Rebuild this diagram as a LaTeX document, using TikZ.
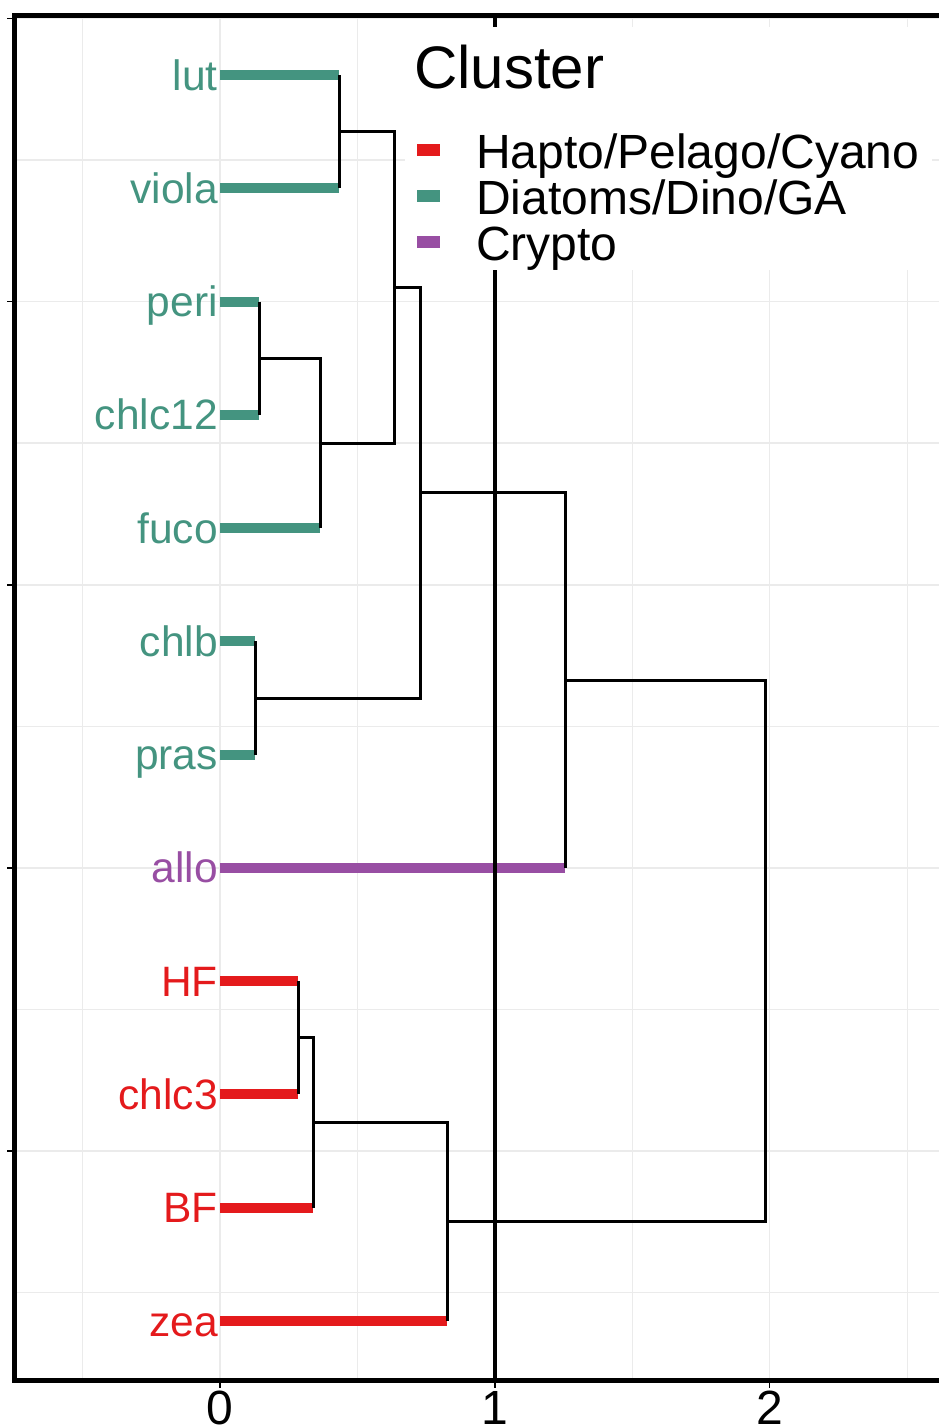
\documentclass[tikz,border=0pt]{standalone}
\usepackage{fontspec}
\setmainfont{Liberation Sans}
\definecolor{cred}{RGB}{228,26,28}
\definecolor{cteal}{RGB}{68,148,128}
\definecolor{cpurple}{RGB}{152,78,163}
\definecolor{gridgray}{RGB}{235,235,235}
\begin{document}
\begin{tikzpicture}[x=1pt,y=-1pt,
  gridline/.style={draw=gridgray,line width=1.5pt},
  link/.style={draw=black,line width=3pt},
  bar/.style={line width=10pt},
  leaflabel/.style={anchor=base east,inner sep=0pt,font=\fontsize{42.5}{50}\selectfont},
  keytext/.style={anchor=base west,inner sep=0pt,font=\fontsize{48}{56}\selectfont},
  keybox/.style={minimum width=23pt,minimum height=12pt,inner sep=0pt,draw=none},
  ticklabel/.style={anchor=base,inner sep=0pt,font=\fontsize{48}{56}\selectfont},
  axisline/.style={line width=5pt},
  tickmark/.style={line width=1.5pt}]
\useasboundingbox (0,0) rectangle (939,1427);
\clip (0,0) rectangle (939,1427);

% panel grid
\foreach \gx in {82.5,220,357.5,495,632.5,769.5,907.5}
  \draw[gridline] (\gx,15) -- (\gx,1380);
\foreach \gy in {18.3,159.9,301.5,443.1,584.75,726.3,867.9,1009.5,1151.1,1292.7}
  \draw[gridline] (14,\gy) -- (960,\gy);

% leaves: labels and tips
\foreach \name/\yy/\col in {lut/75/cteal, viola/188.3/cteal, peri/301.5/cteal,
    chlc12/414.8/cteal, fuco/528.1/cteal, chlb/641.4/cteal, pras/754.6/cteal,
    allo/867.9/cpurple, HF/981.2/cred, chlc3/1094.4/cred, BF/1207.7/cred, zea/1321/cred} {
  \node[leaflabel,text=\col] (\name) at (218,\yy+15) {\name};
  \coordinate (t-\name) at (220,\yy);
}

% merge points (height, midpoint of children)
\coordinate (mA) at (339,131.6);
\coordinate (mB) at (259,358.2);
\coordinate (mC) at (320,443.1);
\coordinate (mD) at (394,287.4);
\coordinate (mE) at (255,698);
\coordinate (mF) at (420,492.7);
\coordinate (mG) at (565,680.3);
\coordinate (mH) at (298,1037.8);
\coordinate (mI) at (313,1122.8);
\coordinate (mJ) at (447,1221.9);
\coordinate (mR) at (765,951.1);

% coloured leaf branches
\draw[bar,cteal] (t-lut) -- (t-lut -| mA);
\draw[bar,cteal] (t-viola) -- (t-viola -| mA);
\draw[bar,cteal] (t-peri) -- (t-peri -| mB);
\draw[bar,cteal] (t-chlc12) -- (t-chlc12 -| mB);
\draw[bar,cteal] (t-fuco) -- (t-fuco -| mC);
\draw[bar,cteal] (t-chlb) -- (t-chlb -| mE);
\draw[bar,cteal] (t-pras) -- (t-pras -| mE);
\draw[bar,cpurple] (t-allo) -- (t-allo -| mG);
\draw[bar,cred] (t-HF) -- (t-HF -| mH);
\draw[bar,cred] (t-chlc3) -- (t-chlc3 -| mH);
\draw[bar,cred] (t-BF) -- (t-BF -| mI);
\draw[bar,cred] (t-zea) -- (t-zea -| mJ);

% internal links
\draw[link] (t-lut -| mA) -- (t-viola -| mA);
\draw[link] (t-peri -| mB) -- (t-chlc12 -| mB);
\draw[link] (mB) -- (mB -| mC) -- (t-fuco -| mC);
\draw[link] (mA) -- (mA -| mD) -- (mC -| mD) -- (mC);
\draw[link] (t-chlb -| mE) -- (t-pras -| mE);
\draw[link] (mD) -- (mD -| mF) -- (mE -| mF) -- (mE);
\draw[link] (mF) -- (mF -| mG) -- (t-allo -| mG);
\draw[link] (t-HF -| mH) -- (t-chlc3 -| mH);
\draw[link] (mH) -- (mH -| mI) -- (t-BF -| mI);
\draw[link] (mI) -- (mI -| mJ) -- (t-zea -| mJ);
\draw[link] (mG) -- (mG -| mR) -- (mJ -| mR) -- (mJ);

% cut line at distance 1
\coordinate (cutTop) at (495,15);
\coordinate (cutBot) at (495,1380);
\draw[line width=4.5pt] (cutTop) -- (cutBot);

% panel border and ticks
\draw[axisline] (960,15) -- (14,15) -- (14,1380) -- (960,1380);
\foreach \gy in {18.3,301.5,584.75,867.9,1151.1}
  \draw[tickmark] (7,\gy) -- (12,\gy);
\foreach \gx in {220,495,769.5}
  \draw[tickmark] (\gx,1382) -- (\gx,1388);
\node[ticklabel] (x0) at (220,1424) {0};
\node[ticklabel] (x1) at (495,1424) {1};
\node[ticklabel] (x2) at (769.5,1424) {2};

% legend
\fill[white] (405,27) rectangle (932,270);
\node[anchor=base west,inner sep=0pt,font=\fontsize{60}{70}\selectfont] (legtitle) at (414,88) {Cluster};
\node[keybox,fill=cred] (k1) at (428.5,150) {};
\node[keybox,fill=cteal] (k2) at (428.5,196) {};
\node[keybox,fill=cpurple] (k3) at (428.5,242) {};
\node[keytext] (l1) at (476,168) {Hapto/Pelago/Cyano};
\node[keytext] (l2) at (476,214) {Diatoms/Dino/GA};
\node[keytext] (l3) at (476,260) {Crypto};
\end{tikzpicture}
\end{document}
